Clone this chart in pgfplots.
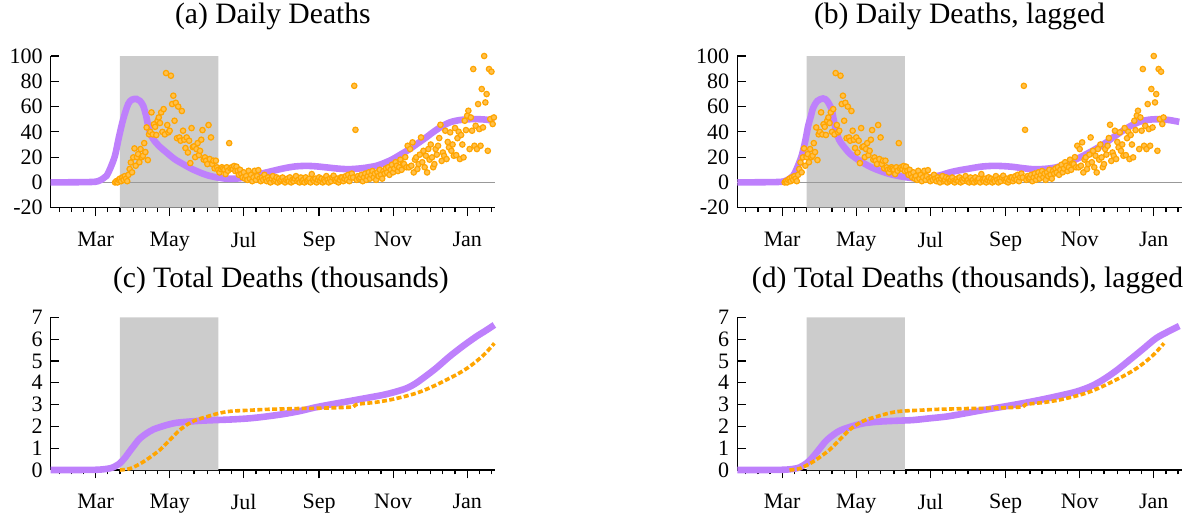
\documentclass[border=0pt]{standalone}
\usepackage{fontspec}
\setmainfont{Liberation Serif}
\usepackage{pgfplots}
\usepackage{pgfplotstable}
\pgfplotsset{compat=1.18}

\definecolor{modelpurple}{RGB}{190,128,252}
\definecolor{dataorange}{RGB}{255,165,0}
\definecolor{shade}{RGB}{204,204,204}

% daily deaths (day 0 = 1 Jan 2020)
\pgfplotstableread[row sep=\\]{
day val\\
76 0\\ 77 1\\ 78 0\\ 79 2\\ 80 3\\ 81 1\\ 82 4\\ 83 2\\ 84 5\\ 85 3\\ 86 1\\ 87 6\\ 88 10.6\\ 89 15.8\\
90 8\\ 91 19.8\\ 92 26.9\\ 93 13.2\\ 94 20\\ 95 22.4\\ 96 16\\ 97 26.4\\ 98 20\\ 99 21.1\\
100 31.1\\ 101 24\\ 102 43.5\\ 103 17.7\\ 104 38\\ 105 40\\ 106 55.4\\ 107 38\\ 108 46\\ 109 44\\
110 37.5\\ 111 48.8\\ 112 51.4\\ 113 47\\ 114 55.4\\ 115 40\\ 116 58\\ 117 38\\ 118 86.5\\ 119 45.4\\
120 39.6\\ 121 40.9\\ 122 84.4\\ 123 62\\ 124 68.6\\ 125 48.8\\ 126 63\\ 127 35\\ 128 60\\ 129 35.6\\
130 33\\ 131 56.5\\ 132 40.9\\ 133 33.8\\ 134 27.2\\ 135 35.6\\ 136 23.7\\ 137 33\\ 138 15.3\\ 139 43\\
140 28\\ 141 28.5\\ 142 20\\ 143 26.4\\ 144 31.1\\ 145 21.6\\ 146 25\\ 147 33.8\\ 148 41.4\\ 149 18\\
150 19.8\\ 151 17.2\\ 152 14.5\\ 153 45.4\\ 154 18.5\\ 155 35.6\\ 156 14.5\\ 157 17.2\\ 158 11.1\\ 159 17.2\\
160 11.9\\ 161 10\\ 162 7.9\\ 163 10.6\\ 164 12\\ 165 11\\ 166 10\\ 167 6.6\\ 168 12\\ 169 9.2\\
170 31.1\\ 171 11\\ 172 12\\ 173 10.6\\ 174 13\\ 175 9\\ 176 12.5\\ 177 9.2\\ 178 6\\ 179 10\\
180 6.6\\ 181 4\\ 182 8\\ 183 3\\ 184 5\\ 185 2\\ 186 9.2\\ 187 3\\ 188 6\\ 189 1\\
190 4\\ 191 9.2\\ 192 2\\ 193 5\\ 194 9.7\\ 195 3\\ 196 1\\ 197 4\\ 198 2\\ 199 6\\
200 3\\ 201 1\\ 202 4\\ 203 2\\ 204 0\\ 205 3\\ 206 5\\ 207 1\\ 208 2\\ 209 4\\
210 0\\ 211 3\\ 212 1\\ 213 2\\ 214 3.9\\ 215 1\\ 216 0\\ 217 2\\ 218 3\\ 219 1\\
220 4\\ 221 0\\ 222 2\\ 223 1\\ 224 3\\ 225 5\\ 226 1\\ 227 2\\ 228 0\\ 229 3.9\\
230 1\\ 231 2\\ 232 0\\ 233 4\\ 234 1\\ 235 2\\ 236 3\\ 237 0\\ 238 6.6\\ 239 2\\
240 1\\ 241 3\\ 242 0\\ 243 2\\ 244 4\\ 245 1\\ 246 3\\ 247 0\\ 248 2\\ 249 1\\
250 5\\ 251 2\\ 252 0\\ 253 3\\ 254 1\\ 255 4\\ 256 5.3\\ 257 2\\ 258 1\\ 259 3\\
260 0\\ 261 2\\ 262 4\\ 263 3.9\\ 264 1\\ 265 3\\ 266 5\\ 267 2\\ 268 6\\ 269 1\\
270 4\\ 271 7\\ 272 3.9\\ 273 76.4\\ 274 41.6\\ 275 2\\ 276 5\\ 277 3\\ 278 3.9\\ 279 6\\
280 1\\ 281 4\\ 282 7\\ 283 2\\ 284 5\\ 285 8\\ 286 3\\ 287 6\\ 288 9\\ 289 4\\
290 7\\ 291 2\\ 292 8\\ 293 5\\ 294 10\\ 295 6\\ 296 3\\ 297 9\\ 298 7\\ 299 11\\
300 7.9\\ 301 12\\ 302 6\\ 303 10\\ 304 14\\ 305 8\\ 306 11\\ 307 16\\ 308 13.2\\ 309 9\\
310 12\\ 311 18\\ 312 10\\ 313 15\\ 314 14.5\\ 315 20\\ 316 12\\ 317 29\\ 318 11.9\\ 319 26.4\\
320 13.2\\ 321 31.7\\ 322 7.9\\ 323 18\\ 324 19.8\\ 325 10.6\\ 326 14.5\\ 327 22\\ 328 35.6\\ 329 16\\
330 25\\ 331 12\\ 332 21.1\\ 333 7.9\\ 334 26.4\\ 335 18\\ 336 30\\ 337 19.8\\ 338 12\\ 339 14.5\\
340 26.4\\ 341 22\\ 342 29\\ 343 35.1\\ 344 45.6\\ 345 17\\ 346 23.7\\ 347 21.1\\ 348 40.9\\ 349 18.5\\
350 32\\ 351 27.7\\ 352 39.6\\ 353 25\\ 354 30\\ 355 21.1\\ 356 43\\ 357 21.6\\ 358 35\\ 359 40.1\\
360 18.5\\ 361 37.5\\ 362 30\\ 363 19.8\\ 364 48.8\\ 365 41.4\\ 366 52.8\\ 367 56.7\\ 368 26.4\\ 369 51.4\\
370 40.9\\ 371 89.7\\ 372 29\\ 373 44.8\\ 374 26.4\\ 375 62\\ 376 42.2\\ 377 29\\ 378 73.9\\ 379 43.5\\
380 100\\ 381 63.3\\ 382 69.9\\ 383 25\\ 384 89.7\\ 385 50.1\\ 386 87.6\\ 387 46.2\\ 388 51.4\\
}\daily

\pgfplotstableread{
day val
23 0
55 0.3
62 1
66 3
69 5.2
72 11
75.9 21
79 35
82.7 50
86.8 62
90 65.5
93.7 66
96.5 64.5
99.2 60.6
101.5 53
103.3 44.8
105 39
107.4 34.3
112 29
118.4 23.7
125 18.5
132 14.5
139 10.8
145.8 7.9
152 5.7
159.5 4
166 3.1
173.2 2.9
180 3.4
187 4.8
200.6 7.9
214.3 11
224 12.6
233.5 13.1
242 12.7
250 11.9
260 10.9
269 10.5
280 11.3
291 13.1
298 15.5
304.7 18.4
311 22
318.5 26.3
325 30.7
332.2 35.6
339 40.5
345.9 44.8
352 47.6
359.6 49.3
368 50
376 50
382 49.6
388.4 48.7
}\modela

\pgfplotstableread{
day val
23 0
55 0.3
62 1
66 3
69 5.2
72 11
76 21
79 33
81.4 44.8
83.5 52
85.5 59
89 64.5
93.7 66.4
97 64.5
100.6 58
102.5 49
104.7 39.5
107 33.5
110.2 29
116 22.5
123.9 17.1
132 12.6
140.4 9.2
150 6.3
162.3 4
172 3.2
181.5 4
190 5.6
197.9 7.9
206 9.6
214.4 11
224 12.5
233.5 13.1
242 12.9
250 12.3
258 11.3
266.4 10.5
276 10.7
285.6 11.9
292 14
299.3 17.1
306 20.2
313 23.7
320 27.5
326.8 31.6
333.5 36.3
340.4 40.8
347 44.7
354.2 47.9
362 49.6
370.6 50
379 49.3
387 47.9
}\modelb

% cumulative deaths, thousands
\pgfplotstableread{
day val
23 0
60 0.01
72 0.08
76 0.17
80 0.31
84 0.55
88 0.85
91 1.07
96 1.42
102 1.68
108 1.87
118.4 2.06
126 2.16
134.8 2.21
147 2.26
159.5 2.29
173 2.32
186.9 2.37
200 2.45
214.3 2.56
228 2.70
241.7 2.88
255 3.02
269.1 3.16
283 3.30
296.5 3.44
306 3.57
315.8 3.74
323 3.95
329.4 4.20
340 4.65
351.4 5.20
362 5.66
373.3 6.11
381 6.38
388.4 6.65
}\cummodela

\pgfplotstableread{
day val
23 0
60 0.01
72 0.08
76 0.17
80 0.31
84 0.52
88 0.78
91 0.99
96 1.33
102 1.61
108 1.82
118.4 2.02
128 2.15
140.4 2.22
155 2.26
167.7 2.29
181.5 2.37
195.2 2.45
208.9 2.58
222.6 2.72
241.8 2.90
257 3.05
272 3.21
287 3.39
302.1 3.59
314 3.83
324 4.13
335 4.55
346 5.04
357 5.54
367.9 6.04
378 6.35
387 6.60
}\cummodelb

\pgfplotstableread{
day val
80 0
88 0.06
96.4 0.28
104 0.55
112.9 0.92
118 1.20
123.8 1.53
129 1.82
134.8 2.06
142 2.28
151.3 2.44
160 2.58
167.7 2.67
175 2.71
186.9 2.74
200.6 2.78
214.3 2.80
228 2.82
241.7 2.83
255 2.85
269.1 2.88
272 2.89
274.5 3.00
277.3 3.03
290 3.10
302 3.21
313 3.35
324 3.52
332 3.69
340.4 3.90
348 4.11
356.8 4.36
365 4.63
373.3 4.97
381 5.35
388.4 5.81
}\cumdata

\pgfplotsset{
  panel/.style={
    scale only axis, width=222.2pt,
    xmin=23, xmax=389, clip=false,
    axis x line=bottom, axis y line=left,
    axis line style={-, line width=0.7pt},
    tick align=inside,
    xtick={60,121,182,244,305,366},
    xticklabels={Mar,May,Jul,Sep,Nov,Jan},
    minor xtick={30,40,50,70,80,91,101,111,131,141,152,162,172,192,203,213,223,234,254,264,274,285,295,315,325,336,346,356,376,386},
    major tick length=4.2pt, minor tick length=2.2pt,
    every major x tick/.append style={yshift=-4.2pt},
    every minor x tick/.append style={yshift=-2.2pt},
    tick style={black, line width=0.6pt},
    ticklabel style={font=\fontsize{11}{13}\selectfont},
    xticklabel style={yshift=-8.6pt},
    yticklabel style={xshift=-0.5pt},
    title style={font=\fontsize{14.8}{17}\selectfont, at={(0.5,1)}, anchor=base},
  },
  toppanel/.style={panel, height=75.85pt, ymin=-20, ymax=100,
    ytick={-20,0,20,40,60,80,100}, yticklabels={-20,0,20,40,60,80,100},
    title style={yshift=10.5pt}},
  botpanel/.style={panel, height=76.35pt, ymin=0, ymax=7,
    ytick={0,1,...,7}, yticklabels={0,1,2,3,4,5,6,7},
    title style={yshift=8.7pt, xshift=4pt}},
  model/.style={no marks, smooth, modelpurple, line width=3.3pt},
  dots/.style={only marks, mark=*, mark size=1.35pt,
    mark options={draw=dataorange, fill=dataorange!70!white, line width=0.6pt}},
  cum/.style={no marks, smooth, dataorange, line width=1.8pt, dash pattern=on 2.5pt off 1.2pt},
}

\begin{document}
\begin{tikzpicture}
\useasboundingbox (0,0) rectangle (595.5pt,-258pt);

\begin{axis}[toppanel, at={(25.35pt,-103.85pt)}, anchor=south west, title={(a) Daily Deaths}]
\addplot[fill=shade, draw=none] coordinates {(80,-20) (161,-20) (161,100) (80,100)} \closedcycle;
\addplot[gray!80, line width=0.5pt] coordinates {(23,0) (389,0)};
\addplot[model] table[x=day, y=val] {\modela};
\addplot[dots] table[x=day, y=val] {\daily};
\end{axis}

\begin{axis}[toppanel, at={(368.65pt,-103.85pt)}, anchor=south west, title={(b) Daily Deaths, lagged}]
\addplot[fill=shade, draw=none] coordinates {(80,-20) (161,-20) (161,100) (80,100)} \closedcycle;
\addplot[gray!80, line width=0.5pt] coordinates {(23,0) (389,0)};
\addplot[model] table[x=day, y=val] {\modelb};
\addplot[dots] table[x expr=\thisrow{day}-14, y=val] {\daily};
\end{axis}

\begin{axis}[botpanel, at={(25.35pt,-235pt)}, anchor=south west, title={(c) Total Deaths (thousands)}]
\addplot[fill=shade, draw=none] coordinates {(80,0) (161,0) (161,7) (80,7)} \closedcycle;
\addplot[model] table[x=day, y=val] {\cummodela};
\addplot[cum] table[x=day, y=val] {\cumdata};
\end{axis}

\begin{axis}[botpanel, at={(368.65pt,-235pt)}, anchor=south west, title={(d) Total Deaths (thousands), lagged}]
\addplot[fill=shade, draw=none] coordinates {(80,0) (161,0) (161,7) (80,7)} \closedcycle;
\addplot[model] table[x=day, y=val] {\cummodelb};
\addplot[cum] table[x expr=\thisrow{day}-14, y=val] {\cumdata};
\end{axis}
\end{tikzpicture}
\end{document}
